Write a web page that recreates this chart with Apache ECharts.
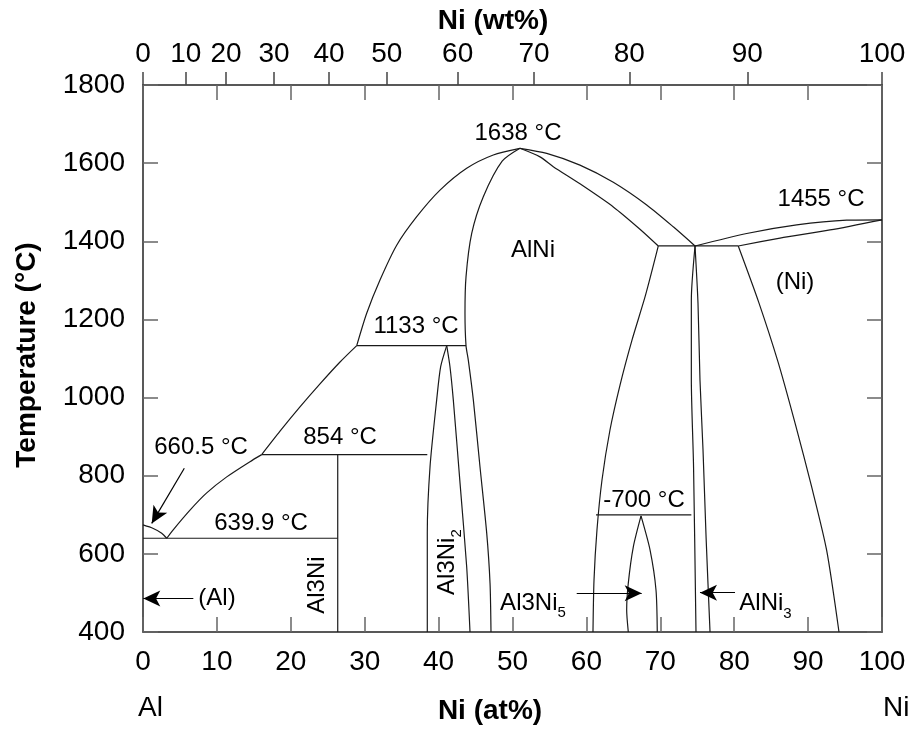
<!DOCTYPE html>
<html><head><meta charset="utf-8">
<script src="https://cdn.jsdelivr.net/npm/echarts@6/dist/echarts.min.js"></script>
<style>html,body{margin:0;padding:0;background:#fff}#c{width:914px;height:734px}</style>
</head><body><div id="c"></div>
<script>
// ---------- DATA (x = Ni at%, y = temperature °C) ----------
const wtLabels = [0, 10, 20, 30, 40, 50, 60, 70, 80, 90, 100];
const wtAtPos  = [0, 5.78, 11.23, 17.73, 25.17, 32.98, 42.58, 52.91, 65.81, 81.77, 100];

const alLiquidus   = [[0,674],[1.39,665],[2.53,653],[3.21,639.9]];
const liqEutTo854  = [[3.21,639.9],[4.06,661],[6.36,712],[8.62,756],[11.33,797],[14.48,836],[16.06,854]];
const liq854To1133 = [[16.06,854],[18.54,914],[21.24,976],[23.95,1035],[26.66,1091],[28.92,1133]];
const liq1133ToMax = [[28.92,1133],[30.27,1216],[32.07,1301],[34.33,1390],[37.04,1463],[40.19,1531],[43.80,1587],[47.40,1621],[51.01,1638]];
const alNiLeft     = [[51.01,1638],[48.6,1605],[46.05,1514],[44.48,1420],[43.71,1309],[43.57,1216],[43.71,1133],[44.02,1096],[44.70,994],[45.60,823],[46.51,653],[46.96,525],[47.09,400]];
const liqRight     = [[51.01,1638],[54.63,1625],[59.13,1595],[63.64,1551],[68.16,1493],[71.76,1437],[74.70,1388]];
const alNiRightTop = [[51.01,1638],[53.72,1616],[55.52,1591],[59.13,1547],[63.64,1488],[67.25,1431],[69.73,1388]];
const alNiRightLow = [[69.73,1388],[68.0,1262],[66.17,1147],[64.55,1032],[63.19,917],[62.11,789],[61.43,661],[61.03,533],[60.89,400]];
const al3ni5Left   = [[65.67,400],[65.45,456],[65.67,525],[66.35,618],[67.39,697]];
const al3ni5Right  = [[67.39,697],[68.61,610],[69.42,507],[69.59,400]];
const alNi3Left    = [[74.70,1388],[74.2,1250],[74.2,1045],[74.5,823],[74.83,400]];
const alNi3Right   = [[74.70,1388],[75.10,1242],[75.37,1045],[75.78,866],[76.2,640],[76.73,400]];
const niSolvus     = [[80.55,1388],[83.30,1245],[85.95,1090],[88.30,930],[90.50,770],[92.50,610],[94.18,400]];
const niLiquidus   = [[74.70,1388],[81.69,1420],[88.46,1442],[95.22,1454],[100,1455]];
const niSolidus    = [[80.55,1388],[86.20,1408],[92.96,1429],[100,1455]];
const al3ni2Left   = [[38.47,400],[38.47,653],[38.84,823],[39.74,994],[40.28,1079],[41.10,1133]];
const al3ni2Right  = [[41.10,1133],[41.54,1079],[41.99,994],[42.90,781],[43.80,567],[44.25,400]];

// invariant (horizontal) lines
const isoTemp = [639.9, 854, 1133, 1388, 700];
const isoFrom = [0, 16.06, 28.92, 69.73, 61.3];
const isoTo   = [26.35, 38.47, 43.71, 80.55, 74.2];
// Al3Ni line compound
const al3niLine = [[26.35,400],[26.35,854]];

// annotations
const labelText = ['1638 °C','AlNi','1133 °C','854 °C','660.5 °C','639.9 °C','(Al)','-700 °C','1455 °C','(Ni)','Al3Ni{s|5}','AlNi{s|3}'];
const labelX    = [50.74, 52.77, 36.94, 26.66, 7.85, 15.97, 10.01, 67.79, 91.75, 88.23, 52.77, 84.24];
const labelT    = [1677, 1378, 1181, 899, 873, 679, 487, 738, 1506, 1295, 474, 472];
const rotText   = ['Al3Ni', 'Al3Ni{s|2}'];
const rotX      = [23.61, 41.14];
const rotT      = [520, 579];

const arrowFrom = [[5.59,819],[6.81,486],[58.69,499],[80.11,500.6]];
const arrowTo   = [[1.18,678],[0.04,486],[67.48,499],[75.37,500.6]];

// ---------- CHART ----------
const FF = '"Liberation Sans", Arial, Helvetica, sans-serif';
const lineCol = '#1a1a1a';
const chart = echarts.init(document.getElementById('c'), null, {renderer:'canvas'});

function curve(data, smooth) {
  return {type:'line', data:data, xAxisIndex:0, yAxisIndex:0, symbol:'none', showSymbol:false,
          smooth:smooth, silent:true, animation:false,
          lineStyle:{color:lineCol, width:1.2}};
}
const curves = [alLiquidus, liqEutTo854, liq854To1133, liq1133ToMax, alNiLeft, liqRight, alNiRightTop,
  alNiRightLow, al3ni5Left, al3ni5Right, alNi3Left, alNi3Right, niSolvus, niLiquidus, niSolidus,
  al3ni2Left, al3ni2Right];
const series = curves.map(d => curve(d, 0.25));
isoTemp.forEach((t, i) => series.push(curve([[isoFrom[i], t], [isoTo[i], t]], false)));
series.push(curve(al3niLine, false));

const rich = {s:{fontSize:15, lineHeight:15, verticalAlign:'bottom', color:'#000', fontFamily:FF}};
const labelData = labelText.map((t, i) => ({
  value:[labelX[i], labelT[i]],
  label:{show:true, position:'inside', formatter:t, fontSize:24, lineHeight:34, color:'#000', opacity:1, fontFamily:FF, rich:rich}
}));
rotText.forEach((t, i) => labelData.push({
  value:[rotX[i], rotT[i]],
  label:{show:true, position:'inside', rotate:90, formatter:t, fontSize:24, lineHeight:34, color:'#000', opacity:1, fontFamily:FF, rich:rich}
}));
series.push({type:'scatter', data:labelData, symbolSize:0, silent:true, animation:false, xAxisIndex:0, yAxisIndex:0,
  itemStyle:{opacity:1}});

series.push({type:'line', data:[], xAxisIndex:0, yAxisIndex:0, silent:true, animation:false,
  markLine:{silent:true, animation:false, symbol:['none','arrow'], symbolSize:[12,17],
    lineStyle:{color:'#000', width:1.2, type:'solid'}, label:{show:false},
    data: arrowFrom.map((f, i) => [{coord:f}, {coord:arrowTo[i]}])}});

const axLine = {show:true, onZero:false, lineStyle:{color:'#222', width:1.5}};
const tickIn = {show:true, inside:true, length:15, lineStyle:{color:'#666', width:1.5}};
const lbl = {fontSize:28, color:'#000', fontFamily:FF, formatter:function(v){ return String(v); }};

chart.setOption({
  animation:false,
  backgroundColor:'#fff',
  textStyle:{fontFamily:FF},
  grid:{left:143, right:32, top:85, bottom:102, containLabel:false},
  xAxis:[
    {type:'value', min:0, max:100, interval:10, position:'bottom', axisLine:axLine, axisTick:tickIn,
     axisLabel:Object.assign({}, lbl, {margin:16}), splitLine:{show:false}},
    {type:'value', min:0, max:100, interval:10, position:'top', axisLine:axLine, axisTick:tickIn,
     axisLabel:{show:false}, splitLine:{show:false}},
    {type:'value', min:0, max:100, position:'top', axisLine:{show:false, onZero:false},
     axisTick:{show:true, inside:false, length:13, customValues:wtAtPos, lineStyle:{color:'#444', width:1.5}},
     axisLabel:Object.assign({}, lbl, {margin:17, customValues:wtAtPos, formatter:function(v){
        let best = 0; for (let i = 0; i < wtAtPos.length; i++) { if (Math.abs(wtAtPos[i]-v) < Math.abs(wtAtPos[best]-v)) best = i; }
        return String(wtLabels[best]); }}),
     splitLine:{show:false}}
  ],
  yAxis:[
    {type:'value', min:400, max:1800, interval:200, position:'left', axisLine:axLine, axisTick:tickIn,
     axisLabel:Object.assign({}, lbl, {margin:18}), splitLine:{show:false}},
    {type:'value', min:400, max:1800, interval:200, position:'right', axisLine:axLine, axisTick:tickIn,
     axisLabel:{show:false}, splitLine:{show:false}}
  ],
  graphic:[
    {type:'text', x:493, y:21, style:{text:'Ni (wt%)', fontSize:28, fontWeight:'bold', fontFamily:FF, fill:'#000', align:'center', verticalAlign:'middle'}},
    {type:'text', x:490, y:711, style:{text:'Ni (at%)', fontSize:28, fontWeight:'bold', fontFamily:FF, fill:'#000', align:'center', verticalAlign:'middle'}},
    {type:'text', x:138, y:708, style:{text:'Al', fontSize:28, fontFamily:FF, fill:'#000', align:'left', verticalAlign:'middle'}},
    {type:'text', x:883, y:708, style:{text:'Ni', fontSize:28, fontFamily:FF, fill:'#000', align:'left', verticalAlign:'middle'}},
    {type:'text', x:27, y:355, rotation:Math.PI/2, style:{text:'Temperature (°C)', fontSize:28, fontWeight:'bold', fontFamily:FF, fill:'#000', align:'center', verticalAlign:'middle'}}
  ],
  series:series
});
</script>
</body></html>
